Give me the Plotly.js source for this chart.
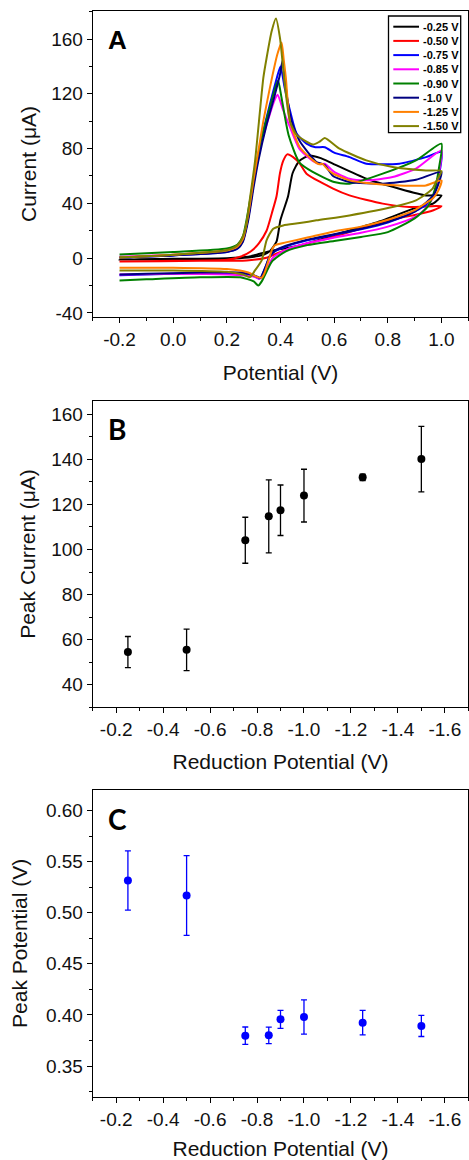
<!DOCTYPE html>
<html><head><meta charset="utf-8">
<script src="https://cdn.plot.ly/plotly-3.0.1.min.js"></script>
<style>html,body{margin:0;padding:0;background:#fff;} #chart{width:469px;height:1160px;}</style>
</head><body><div id="chart"></div>
<script>
// ---------- Panel A: cyclic voltammograms ----------
const seriesNames = ['-0.25 V','-0.50 V','-0.75 V','-0.85 V','-0.90 V','-1.0 V','-1.25 V','-1.50 V'];
const seriesColors = ['#000000','#ff0000','#0000ff','#ff00ff','#008000','#000080','#ff8000','#808000'];

const potential_025 = [-0.2,0.0,0.2,0.28,0.33,0.36,0.385,0.40,0.428,0.445,0.47,0.509,0.55,0.595,0.72,0.843,0.942,1.0, 0.97,0.893,0.781,0.657,0.472,0.373,0.323,0.28,0.2,0.0,-0.2];
const current_025   = [-1,-0.8,-0.4,0.5,2,5,12,28,45,62,71,75,73,69,58,50.7,45.8,45.8, 40,36,27.6,20.2,9.3,5.6,3.2,1,0,-0.5,-1];

const potential_050 = [-0.2,0.0,0.2,0.25,0.29,0.32,0.348,0.368,0.385,0.398,0.41,0.425,0.447,0.472,0.497,0.596,0.657,0.781,0.88,1.0, 0.97,0.9,0.843,0.72,0.596,0.472,0.398,0.348,0.274,0.1,-0.2];
const current_050   = [-2.4,-2,-1.2,1,5,11,20,33,45,62,71,75.8,73.8,69,61.7,50.7,45.8,39.8,37.3,38, 35,31.5,29.5,22.7,15.4,9.3,4.4,0.3,-1.7,-2,-2.4];

const potential_075 = [-0.2,0.0,0.2,0.24,0.26,0.28,0.30,0.33,0.36,0.38,0.40,0.415,0.435,0.46,0.497,0.53,0.565,0.6,0.657,0.72,0.843,0.942,1.0, 0.99,0.975,0.95,0.9,0.8,0.7,0.6,0.5,0.42,0.38,0.36,0.345,0.33,0.32,0.3,0.25,0.1,-0.1,-0.2];
const current_075   = [0.5,2,4.5,7,13,30,55,88,112,127,140,125,108,91,83.6,81,81,77,73.8,69,69,73.8,77.5, 60,48,40,34,26,21,17,13,8.5,5,1,-6,-13,-15,-13,-11,-11,-12,-12.5];

const potential_085 = [-0.2,0.0,0.2,0.24,0.26,0.28,0.30,0.33,0.36,0.375,0.389,0.41,0.435,0.47,0.52,0.55,0.565,0.6,0.657,0.72,0.818,0.905,1.0, 0.99,0.97,0.94,0.9,0.8,0.7,0.6,0.5,0.42,0.37,0.35,0.33,0.32,0.3,0.2,0.0,-0.2];
const current_085   = [1,2.5,5,8,13,30,55,85,105,114,119.4,108,95.8,80,71,68.5,69,63,58,56.8,59.2,65.4,78.7, 62,45,36,30,23,18.5,15,11,6,0,-8,-14,-15,-13.5,-12,-11.5,-12];

const potential_090 = [-0.2,0.0,0.2,0.24,0.26,0.28,0.30,0.33,0.36,0.38,0.391,0.404,0.43,0.47,0.52,0.6,0.657,0.781,0.905,1.0, 0.99,0.975,0.95,0.9,0.8,0.7,0.6,0.5,0.42,0.37,0.35,0.33,0.317,0.3,0.25,0.1,-0.1,-0.2];
const current_090   = [2.7,4.5,7,10,16,35,58,88,110,124,129.7,117,90,70,63,55.6,54.4,61.7,71.4,83.6, 65,50,38,29,19,15.5,12.5,9.5,5,-2,-9,-17,-20,-17,-14,-14,-15.5,-16.3];

const potential_100 = [-0.2,0.0,0.2,0.24,0.26,0.28,0.30,0.317,0.348,0.379,0.398,0.408,0.416,0.425,0.441,0.472,0.534,0.552,0.565,0.596,0.657,0.781,0.905,1.0, 0.99,0.97,0.94,0.9,0.8,0.7,0.6,0.5,0.42,0.38,0.36,0.345,0.33,0.325,0.3,0.25,0.1,-0.1,-0.2];
const current_100   = [0.5,2,4.5,7,12,28,52,70.7,97.5,119.4,134,144.5,131.6,117,100,85.3,70.2,69,68,60,55.6,54.4,57.3,63, 55,46,40,34,26.5,21.5,17.5,13.5,9,5.5,1.5,-6,-13,-14.5,-12.5,-10.5,-10.5,-11.5,-12];

const potential_125 = [-0.2,0.0,0.2,0.24,0.26,0.28,0.30,0.311,0.336,0.36,0.388,0.404,0.412,0.42,0.435,0.472,0.521,0.545,0.555,0.575,0.596,0.657,0.72,0.843,0.942,1.0, 0.99,0.97,0.94,0.9,0.8,0.7,0.6,0.5,0.42,0.38,0.37,0.355,0.34,0.33,0.31,0.28,0.2,0.0,-0.2];
const current_125   = [0.5,2.5,5.5,8.5,14,32,58,70.7,100,124,148.7,157.5,145,131.6,100,81,71.4,68.5,69,65,61.7,56.8,54.8,53.1,53.1,56.8, 50,44,40,35,28,23,19.5,15,11.5,9.5,7,-2,-11,-14.3,-13.5,-10.5,-8,-7,-7];

const potential_150 = [-0.2,0.0,0.2,0.23,0.25,0.27,0.285,0.305,0.336,0.348,0.367,0.383,0.398,0.416,0.435,0.46,0.521,0.545,0.565,0.62,0.72,0.818,0.942,1.0, 0.98,0.967,0.905,0.818,0.657,0.534,0.472,0.41,0.373,0.348,0.33,0.305,0.286,0.26,0.2,0.0,-0.2];
const current_150   = [0.5,2.5,6,8,12,22,42,70.7,131.6,146,165.7,175,160.8,126.7,100,90,83,85,87.7,80,71.4,66.5,64,63.6, 56,50.7,42.2,37.3,31.2,27.6,25.6,23.9,21.5,13,-1.7,-9,-13.9,-12,-10,-9,-9];

const cvPotentials = [potential_025,potential_050,potential_075,potential_085,potential_090,potential_100,potential_125,potential_150];
const cvCurrents   = [current_025,current_050,current_075,current_085,current_090,current_100,current_125,current_150];

const cvTickVals = [-0.2,0.0,0.2,0.4,0.6,0.8,1.0];
const cvTickText = ['-0.2','0.0','0.2','0.4','0.6','0.8','1.0'];
const currentTickVals = [-40,0,40,80,120,160];
const currentTickText = ['-40','0','40','80','120','160'];

// ---------- Panels B and C ----------
const reductionPotential = [-0.25,-0.5,-0.75,-0.85,-0.9,-1.0,-1.25,-1.5];
const peakCurrent    = [54.5,55.5,104.1,114.7,117.4,123.9,132.0,140.1];
const peakCurrentErr = [6.9,9.2,10.2,16.2,11.2,11.7,1.4,14.5];
const peakPotential    = [0.5315,0.5168,0.3797,0.3800,0.3957,0.3980,0.3924,0.3892];
const peakPotentialErr = [0.029,0.039,0.0085,0.008,0.0088,0.0168,0.012,0.0103];

const redTickVals = [-0.2,-0.4,-0.6,-0.8,-1.0,-1.2,-1.4,-1.6];
const redTickText = ['-0.2','-0.4','-0.6','-0.8','-1.0','-1.2','-1.4','-1.6'];
const peakCurrentTickVals = [40,60,80,100,120,140,160];
const peakCurrentTickText = ['40','60','80','100','120','140','160'];
const peakPotentialTickVals = [0.35,0.40,0.45,0.50,0.55,0.60];
const peakPotentialTickText = ['0.35','0.40','0.45','0.50','0.55','0.60'];

// ---------- build ----------
const W = 469, H = 1160;
const FONT = 'Liberation Sans, Arial, sans-serif';
const xDom = [92.7/W, 468.3/W];
function yDom(top, bottom){ return [1-bottom/H, 1-top/H]; }

const traces = [];
cvPotentials.forEach((px, i) => {
  traces.push({
    x: px, y: cvCurrents[i], type:'scatter', mode:'lines', name: seriesNames[i],
    line:{color: seriesColors[i], width:2, shape:'spline', smoothing:0.6},
    xaxis:'x', yaxis:'y', showlegend:false, hoverinfo:'skip'
  });
});
traces.push({
  x: reductionPotential, y: peakCurrent, type:'scatter', mode:'markers',
  marker:{color:'#000', size:8},
  error_y:{type:'data', array: peakCurrentErr, visible:true, color:'#000', thickness:1.3, width:3},
  xaxis:'x2', yaxis:'y2', showlegend:false
});
traces.push({
  x: reductionPotential, y: peakPotential, type:'scatter', mode:'markers',
  marker:{color:'#0000ff', size:8},
  error_y:{type:'data', array: peakPotentialErr, visible:true, color:'#0000ff', thickness:1.3, width:3},
  xaxis:'x3', yaxis:'y3', showlegend:false
});

function axis(opts){
  return Object.assign({
    showline:true, linecolor:'#000', linewidth:1, mirror:true,
    ticks:'outside', ticklen:5, tickwidth:1, tickcolor:'#000',
    showgrid:false, zeroline:false, tickmode:'array',
    tickfont:{family:FONT, size:19, color:'#111'},
  }, opts);
}
function title(t, standoff){ return {text:t, font:{family:FONT, size:21, color:'#111'}, standoff: standoff}; }
function minor(d){ return {dtick:d, tick0:0, ticks:'outside', ticklen:3, tickwidth:1, tickcolor:'#000', showgrid:false}; }

const layout = {
  width:W, height:H, margin:{l:0,r:0,t:0,b:0},
  paper_bgcolor:'#fff', plot_bgcolor:'#fff', showlegend:false,
  xaxis: axis({domain:xDom, anchor:'y', range:[-0.3,1.1], tickvals:cvTickVals, ticktext:cvTickText, minor:minor(0.1), title:title('Potential (V)', 16)}),
  yaxis: axis({domain:yDom(11,317), anchor:'x', range:[-43,180.5], tickvals:currentTickVals, ticktext:currentTickText, minor:minor(20), title:title('Current (\u03bcA)', 8)}),
  xaxis2: axis({domain:xDom, anchor:'y2', range:[-0.1,-1.7], tickvals:redTickVals, ticktext:redTickText, minor:minor(0.1), title:title('Reduction Potential (V)', 15)}),
  yaxis2: axis({domain:yDom(400.7,707.3), anchor:'x2', range:[30,166], tickvals:peakCurrentTickVals, ticktext:peakCurrentTickText, minor:minor(10), title:title('Peak Current (\u03bcA)', 9)}),
  xaxis3: axis({domain:xDom, anchor:'y3', range:[-0.1,-1.7], tickvals:redTickVals, ticktext:redTickText, minor:minor(0.1), title:title('Reduction Potential (V)', 19)}),
  yaxis3: axis({domain:yDom(790,1096.7), anchor:'x3', range:[0.32,0.62], tickvals:peakPotentialTickVals, ticktext:peakPotentialTickText, minor:minor(0.025), title:title('Peak Potential (V)', 12)}),
  shapes: [], annotations: []
};

// panel letters
layout.annotations.push({xref:'x domain', yref:'y domain', x:0.066, y:0.905, text:'<b>A</b>', showarrow:false, xanchor:'center', yanchor:'middle', font:{family:FONT, size:26, color:'#000'}});
layout.annotations.push({xref:'x2 domain', yref:'y2 domain', x:0.065, y:0.908, text:'<b>B</b>', showarrow:false, xanchor:'center', yanchor:'middle', font:{family:'Lato, Open Sans, sans-serif', size:28, color:'#000'}});
layout.annotations.push({xref:'x3 domain', yref:'y3 domain', x:0.065, y:0.904, text:'<b>C</b>', showarrow:false, xanchor:'center', yanchor:'middle', font:{family:'Lato, Open Sans, sans-serif', size:28, color:'#000'}});

// legend box for panel A (drawn in A's domain coordinates)
const dx = px => (px - 92.7) / (468.3 - 92.7);
const dy = py => (317 - py) / (317 - 11);
layout.shapes.push({type:'rect', xref:'x domain', yref:'y domain', x0:dx(388.5), x1:dx(460.7), y0:dy(132.7), y1:dy(16), line:{color:'#000', width:1.3}, fillcolor:'#fff', layer:'above'});
seriesNames.forEach((nm, i) => {
  const yc = 26.7 + i*14.2;
  layout.shapes.push({type:'line', xref:'x domain', yref:'y domain', x0:dx(393.3), x1:dx(419), y0:dy(yc), y1:dy(yc), line:{color:seriesColors[i], width:2}, layer:'above'});
  layout.annotations.push({xref:'x domain', yref:'y domain', x:dx(421), y:dy(yc), text:'<b>'+nm+'</b>', showarrow:false, xanchor:'left', yanchor:'middle', font:{family:FONT, size:11, color:'#000'}});
});

Plotly.newPlot('chart', traces, layout, {staticPlot:true, displayModeBar:false});
</script></body></html>
